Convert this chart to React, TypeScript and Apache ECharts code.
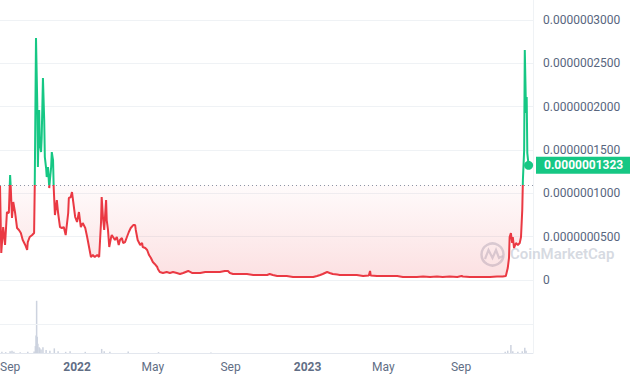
import React, { useEffect, useRef } from 'react';
import * as echarts from 'echarts';

// ---------- data (prices in units of 1e-9 USD) ----------
const priceDates: string[] = [
  '2021-09-01','2021-09-03','2021-09-06','2021-09-09','2021-09-12','2021-09-15','2021-09-17','2021-09-18','2021-09-20','2021-09-22',
  '2021-09-25','2021-09-28','2021-10-01','2021-10-04','2021-10-07','2021-10-11','2021-10-14','2021-10-15','2021-10-18','2021-10-22',
  '2021-10-25','2021-10-26','2021-10-28','2021-10-30','2021-10-31','2021-11-02','2021-11-03','2021-11-05','2021-11-06','2021-11-08',
  '2021-11-10','2021-11-11','2021-11-13','2021-11-14','2021-11-16','2021-11-18','2021-11-19','2021-11-21','2021-11-22','2021-11-24',
  '2021-11-25','2021-11-27','2021-11-30','2021-12-02','2021-12-05','2021-12-08','2021-12-11','2021-12-14','2021-12-18','2021-12-19',
  '2021-12-22','2021-12-24','2021-12-26','2021-12-29','2022-01-01','2022-01-04','2022-01-07','2022-01-10','2022-01-14','2022-01-17',
  '2022-01-20','2022-01-23','2022-01-26','2022-01-29','2022-02-02','2022-02-05','2022-02-08','2022-02-09','2022-02-11','2022-02-13',
  '2022-02-14','2022-02-16','2022-02-17','2022-02-19','2022-02-21','2022-02-24','2022-02-25','2022-02-27','2022-03-02','2022-03-05',
  '2022-03-08','2022-03-10','2022-03-13','2022-03-15','2022-03-18','2022-03-21','2022-03-24','2022-03-27','2022-03-31','2022-04-03',
  '2022-04-04','2022-04-07','2022-04-11','2022-04-14','2022-04-15','2022-04-19','2022-04-22','2022-04-25','2022-04-28','2022-05-01',
  '2022-05-04','2022-05-08','2022-05-09','2022-05-12','2022-05-17','2022-05-23','2022-05-28','2022-06-02','2022-06-08','2022-06-13',
  '2022-06-18','2022-06-26','2022-07-02','2022-07-10','2022-07-15','2022-07-23','2022-07-30','2022-08-07','2022-08-15','2022-08-23',
  '2022-08-28','2022-08-31','2022-09-05','2022-09-16','2022-09-27','2022-10-07','2022-10-18','2022-10-29','2022-11-02','2022-11-07',
  '2022-11-14','2022-11-18','2022-11-29','2022-12-09','2022-12-20','2022-12-31','2023-01-10','2023-01-16','2023-01-21','2023-01-25',
  '2023-02-01','2023-02-05','2023-02-10','2023-02-17','2023-02-21','2023-03-01','2023-03-09','2023-03-20','2023-03-30','2023-04-08',
  '2023-04-10','2023-04-11','2023-04-21','2023-04-30','2023-05-11','2023-05-23','2023-06-01','2023-06-12','2023-06-23','2023-07-03',
  '2023-07-14','2023-07-25','2023-08-03','2023-08-14','2023-08-26','2023-09-02','2023-09-04','2023-09-15','2023-09-26','2023-10-06',
  '2023-10-17','2023-10-28','2023-11-06','2023-11-11','2023-11-14','2023-11-16','2023-11-17','2023-11-19','2023-11-21','2023-11-22',
  '2023-11-24','2023-11-27','2023-11-30','2023-12-03','2023-12-05','2023-12-07','2023-12-08','2023-12-10','2023-12-11','2023-12-13',
  '2023-12-14','2023-12-15','2023-12-17',
];

const priceValuesNano: number[] = [
  109.5, 31.1, 61.1, 40.4, 78.4, 77.3, 121.1, 107.3, 71.5, 90.0,
  77.3, 60.0, 57.7, 54.2, 46.1, 40.4, 34.6, 43.8, 49.6, 51.9,
  54.2, 107.3, 279.1, 204.2, 130.3, 196.1, 158.0, 147.6, 163.8, 233.0,
  184.5, 141.9, 129.2, 118.8, 130.3, 106.1, 115.3, 130.3, 147.6, 138.4,
  107.3, 75.0, 92.3, 77.3, 61.1, 60.0, 61.1, 51.9, 77.3, 94.6,
  95.7, 101.5, 90.0, 72.7, 66.9, 78.4, 61.1, 65.7, 60.0, 49.6,
  38.1, 26.5, 28.8, 26.5, 28.8, 26.5, 66.9, 95.7, 72.7, 57.7,
  69.2, 92.3, 69.2, 57.7, 38.1, 49.6, 51.9, 49.6, 46.1, 49.6,
  40.4, 46.1, 48.4, 42.7, 43.8, 49.6, 55.4, 60.0, 63.4, 63.4,
  57.7, 46.1, 40.4, 42.7, 38.1, 36.9, 34.6, 28.8, 25.4, 20.8,
  18.5, 15.0, 12.7, 9.2, 8.1, 9.2, 8.1, 9.2, 8.1, 6.9,
  8.1, 10.4, 8.1, 8.1, 8.1, 9.2, 9.2, 9.2, 9.2, 10.4,
  10.4, 8.1, 6.9, 6.9, 6.9, 5.8, 5.8, 5.8, 6.9, 5.8,
  4.6, 4.6, 4.6, 3.5, 3.5, 3.5, 3.5, 4.6, 5.8, 6.9,
  9.2, 8.1, 6.9, 6.3, 5.8, 5.8, 5.8, 5.8, 4.6, 5.2,
  10.4, 5.2, 4.6, 4.6, 4.6, 4.6, 3.5, 3.5, 3.5, 4.0,
  3.5, 4.0, 3.5, 4.0, 3.5, 4.6, 4.0, 3.5, 3.5, 3.5,
  3.5, 4.0, 4.0, 4.6, 13.8, 25.4, 49.6, 54.2, 42.7, 49.6,
  36.9, 42.7, 40.4, 42.7, 49.6, 80.7, 115.3, 149.9, 265.3, 192.6,
  211.1, 146.5, 132.3,
];

const volumeDates: string[] = [
  '2021-09-04','2021-09-10','2021-09-17','2021-09-20','2021-09-23','2021-10-03','2021-10-15','2021-10-25','2021-10-27','2021-10-28',
  '2021-10-29','2021-10-30','2021-10-31','2021-11-02','2021-11-03','2021-11-05','2021-11-08','2021-11-13','2021-11-19','2021-11-26',
  '2021-12-02','2021-12-14','2021-12-21','2022-01-14','2022-02-09','2022-02-13','2022-02-22','2022-03-23','2022-05-10','2022-08-01',
  '2023-11-10','2023-11-14','2023-11-19','2023-11-22','2023-11-30','2023-12-07','2023-12-11','2023-12-13',
];
const volumeValues: number[] = [
  2, 1.5, 3, 4, 2, 1.5, 2, 2.5, 12, 30,
  90, 28, 16, 10, 8, 6, 10, 5, 4, 8,
  3, 2, 3, 2, 7, 3, 2, 2.5, 1.5, 1,
  2, 4, 14, 3, 2, 3, 9, 4,
];

const NANO = 1e-9; // display unit of the price values
const baselinePrice = 109.5;
const currentPrice = 132.3;
const priceAxisMax = 300;
const priceAxisStep = 50;
const volumeAxisMax = 100;
const volumeMidLine = 50;
const xAxisStart = '2021-09-01';
const xAxisEnd = '2023-12-24';
const xLabelDates: string[] = [
  '2021-09-01','2022-01-01','2022-05-01','2022-09-01','2023-01-01','2023-05-01','2023-09-01',
];
const monthNames = ['Jan','Feb','Mar','Apr','May','Jun','Jul','Aug','Sep','Oct','Nov','Dec'];

// ---------- helpers ----------
const ts = (s: string) => {
  const [y, m, d] = s.split('-').map(Number);
  return new Date(y, m - 1, d).getTime();
};
const fmtPrice = (v: number) => (v === 0 ? '0' : (v * NANO).toFixed(10));

const GREEN = '#16c784';
const RED = '#ea3943';
const GRAY_TEXT = '#58667e';
const GRID_LINE = '#eff2f5';
const FONT = 'Roboto, "Noto Sans", sans-serif';

export default function App() {
  const ref = useRef<HTMLDivElement>(null);

  useEffect(() => {
    if (!ref.current) return;
    const chart = echarts.init(ref.current, undefined, { renderer: 'svg' });

    const priceData = priceDates.map((d, i) => [ts(d), priceValuesNano[i]]);
    const areaData = priceDates.map((d, i) => [ts(d), Math.min(priceValuesNano[i], baselinePrice)]);
    const volumeData = volumeDates.map((d, i) => [ts(d), volumeValues[i]]);
    const labelData = xLabelDates.map((d) => [ts(d), 0]);
    const lastIdx = priceDates.length - 1;

    const option: any = {
      animation: false,
      textStyle: { fontFamily: FONT },
      grid: [
        { left: 0, right: 97, top: 20, height: 260 },
        { left: 0, right: 97, top: 295, bottom: 27 },
      ],
      xAxis: [
        {
          type: 'value', gridIndex: 0, min: ts(xAxisStart), max: ts(xAxisEnd),
          show: false, splitLine: { show: false },
        },
        {
          type: 'value', gridIndex: 1, min: ts(xAxisStart), max: ts(xAxisEnd),
          axisLine: { show: true, lineStyle: { color: '#e3e7ee', width: 1 } },
          axisTick: { show: false },
          splitLine: { show: false },
          axisLabel: { show: false },
        },
      ],
      yAxis: [
        {
          type: 'value', gridIndex: 0, position: 'right', min: 0, max: priceAxisMax, interval: priceAxisStep,
          axisLine: { show: false }, axisTick: { show: false },
          splitLine: { show: true, lineStyle: { color: GRID_LINE, width: 1 } },
          axisLabel: {
            margin: 10, color: GRAY_TEXT, fontSize: 12, fontFamily: FONT,
            formatter: fmtPrice,
          },
        },
        {
          type: 'value', gridIndex: 1, min: 0, max: volumeAxisMax, show: false,
          splitLine: { show: false },
        },
      ],
      visualMap: {
        type: 'piecewise', show: false, seriesIndex: 1, dimension: 1,
        pieces: [
          { lte: baselinePrice, color: RED },
          { gt: baselinePrice, lte: 100000, color: GREEN },
        ],
        outOfRange: { color: GREEN },
      },
      series: [
        {
          type: 'line', xAxisIndex: 0, yAxisIndex: 0, data: areaData, symbol: 'none', silent: true,
          lineStyle: { width: 0 },
          areaStyle: {
            origin: baselinePrice,
            color: new echarts.graphic.LinearGradient(0, 0, 0, 1, [
              { offset: 0, color: 'rgba(234,57,67,0.03)' },
              { offset: 1, color: 'rgba(234,57,67,0.22)' },
            ]),
          },
          z: 1,
        },
        {
          type: 'line', xAxisIndex: 0, yAxisIndex: 0, data: priceData, symbol: 'none',
          lineStyle: { width: 2 }, z: 3,
          markLine: {
            silent: true, symbol: 'none',
            data: [
              {
                yAxis: baselinePrice,
                label: { show: false },
                lineStyle: { color: '#8d94a5', type: [1, 3], width: 1 },
              },
              {
                yAxis: currentPrice,
                lineStyle: { color: 'transparent', width: 0 },
                label: {
                  show: true, position: 'end', distance: 3,
                  backgroundColor: GREEN, color: '#ffffff', fontWeight: 'bold',
                  fontSize: 12, fontFamily: FONT, padding: [3, 8, 2, 8],
                  formatter: () => fmtPrice(currentPrice),
                },
              },
            ],
          },
          markPoint: {
            symbol: 'circle', symbolSize: 9, silent: true,
            itemStyle: { color: GREEN },
            label: { show: false },
            data: [{ coord: [ts(priceDates[lastIdx]), priceValuesNano[lastIdx]] }],
          },
        },
        {
          type: 'bar', xAxisIndex: 1, yAxisIndex: 1, data: volumeData, barWidth: 1.5,
          itemStyle: { color: '#cdd3df' }, silent: true,
          markLine: {
            silent: true, symbol: 'none', label: { show: false },
            lineStyle: { color: GRID_LINE, type: 'solid', width: 1 },
            data: [{ yAxis: volumeMidLine }],
          },
        },
        {
          type: 'custom', xAxisIndex: 1, yAxisIndex: 1, data: labelData, silent: true, clip: false,
          renderItem: (params: any, api: any) => {
            const t = api.value(0);
            const x = api.coord([t, 0])[0];
            const cs = params.coordSys;
            const dt = new Date(t);
            const isYear = dt.getMonth() === 0;
            return {
              type: 'text',
              x,
              y: cs.y + cs.height + 8,
              style: {
                text: isYear ? String(dt.getFullYear()) : monthNames[dt.getMonth()],
                textAlign: params.dataIndex === 0 ? 'left' : 'center',
                textVerticalAlign: 'top',
                font: `${isYear ? 'bold ' : ''}12px ${FONT}`,
                fill: '#616e85',
              },
            };
          },
        },
      ],
      graphic: [
        {
          type: 'line', silent: true,
          shape: { x1: 533.5, y1: 0, x2: 533.5, y2: 353 },
          style: { stroke: GRID_LINE, lineWidth: 1 },
        },
        {
          type: 'group', left: 479, top: 241, silent: true,
          children: [
            {
              type: 'circle', shape: { cx: 12.5, cy: 12.5, r: 11 },
              style: { fill: 'none', stroke: '#c9ced8', lineWidth: 2.5, opacity: 0.75 },
            },
            {
              type: 'polyline',
              shape: { points: [[5, 17], [8.5, 8], [12.5, 16], [16, 8], [19, 16], [23, 14]] },
              style: { fill: 'none', stroke: '#c9ced8', lineWidth: 2.2, opacity: 0.75 },
            },
            {
              type: 'text', x: 30, y: 4,
              style: {
                text: 'CoinMarketCap', fill: '#c9ced8', opacity: 0.75,
                font: `600 15px ${FONT}`,
              },
            },
          ],
        },
      ],
    };

    chart.setOption(option);
    return () => chart.dispose();
  }, []);

  return (
    <div
      ref={ref}
      style={{ position: 'absolute', left: 0, top: 0, width: 630, height: 380, background: '#fff' }}
    />
  );
}
